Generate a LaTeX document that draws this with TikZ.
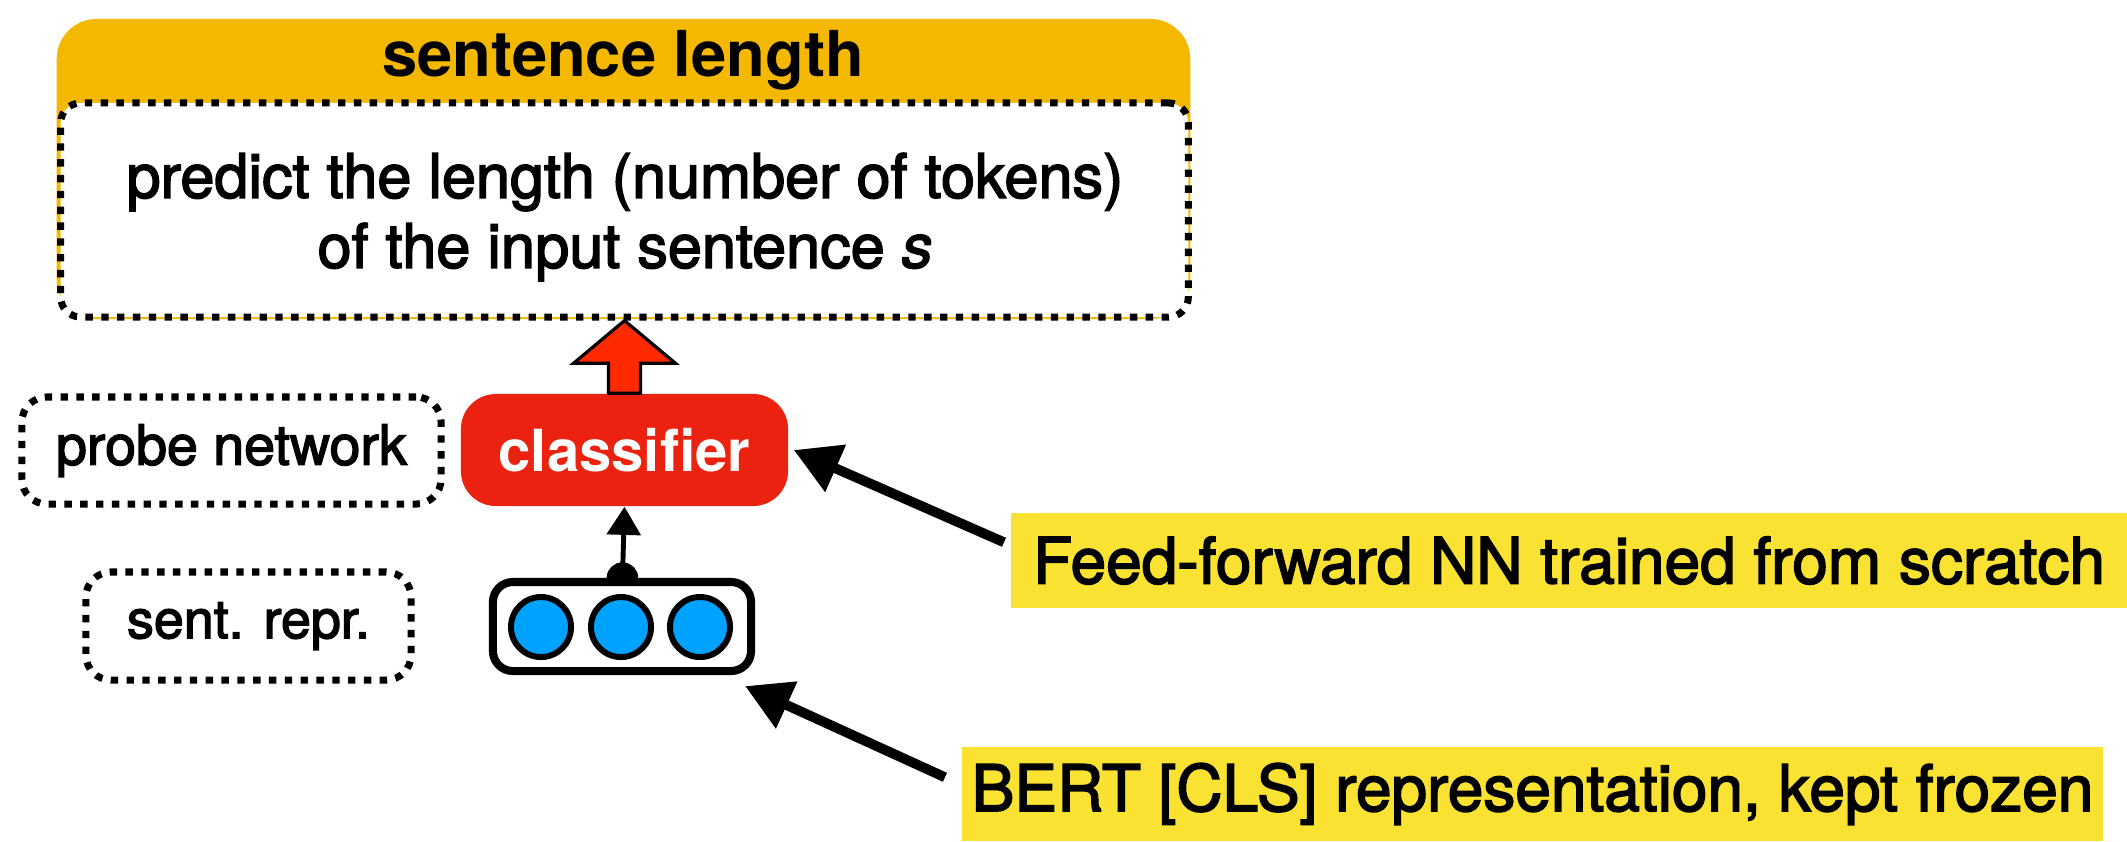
\documentclass[tikz,border=0pt]{standalone}
\usepackage{fontspec}
\setmainfont{TeX Gyre Heros}[UprightFeatures={FakeBold=2.5},ItalicFeatures={FakeBold=2.5}]
\usetikzlibrary{arrows.meta,calc,backgrounds}
\definecolor{taskorange}{RGB}{245,184,0}
\definecolor{clfred}{RGB}{236,34,16}
\definecolor{arrowred}{RGB}{255,42,0}
\definecolor{unitblue}{RGB}{0,162,255}
\definecolor{noteyellow}{RGB}{249,226,50}
\tikzset{
  dotbox/.style={draw,fill=white,line width=2pt,dash pattern=on 2.1pt off 2.4pt,rounded corners=0.25cm},
  note/.style={fill=noteyellow,inner sep=0pt,font=\fontsize{18.2}{20}\selectfont},
  pointer/.style={line width=2.8pt,-{Triangle[length=13pt,width=14pt]}},
  bigarrow/.style={fill=arrowred,draw=black,line width=0.9pt,line join=miter},
}

\begin{document}
\begin{tikzpicture}[x=0.01cm,y=-0.01cm]  % ------ probing task ---------------
    \useasboundingbox (0,0) rectangle (2127,841);

    % task box
    \node[fill=taskorange,rounded corners=0.4cm,minimum width=11.33cm,minimum height=3cm] (taskbg) at (623.5,169) {};
    \node[font=\fontsize{18}{20}\selectfont\bfseries] (task) at (623,60) {sentence length};
    \node[dotbox,rounded corners=0.2cm,minimum width=11.27cm,minimum height=2.14cm] (desc) at (624.5,210) {};
    \node[align=center,font=\fontsize{17.4}{19.9}\selectfont] (desctext) at (625,217)
          {predict the length (number of tokens)\\of the input sentence \textit{s}};

    % probe
    \node[fill=clfred,rounded corners=0.35cm,minimum width=3.27cm,minimum height=1.12cm,text=white,
          font=\fontsize{16.5}{18}\selectfont\bfseries] (clf) at (624.5,450) {classifier};
    \node[dotbox,minimum width=4.19cm,minimum height=1.07cm,font=\fontsize{15.8}{18}\selectfont] (probe) at (231.5,450.5) {probe network};
    \draw[bigarrow] (clf.north) ++(-16,0) -- ++(0,-30) -- ++(-35,0) -- (clf.north |- desc.south)
        -- ($(clf.north)+(51,-30)$) -- ++(-35,0) -- ++(0,30) -- cycle;

    % sentence representation
    \node[dotbox,minimum width=3.25cm,minimum height=1.08cm,font=\fontsize{15.3}{18}\selectfont] (sent) at (248.5,626) {sent. repr.};
    \node[draw,fill=white,line width=2.3pt,rounded corners=0.2cm,minimum width=2.58cm,minimum height=0.89cm] (vec) at (622,626.5) {};
    \foreach \i/\x in {1/541,2/621,3/700}
        \node[circle,draw,fill=unitblue,line width=1.7pt,minimum size=0.6cm,inner sep=0pt] (u\i) at (\x,627) {};
    \begin{scope}[on background layer]
        \draw[line width=1.4pt,{Circle[length=9pt]}-{Triangle[length=8pt,width=9.5pt]}] ($(vec.north)+(0,16)$) -- (clf.south);
    \end{scope}

    % notes
    \node[note,minimum width=11.16cm,minimum height=0.95cm] (ff) at (1569,560.5) {Feed-forward NN trained from scratch};
    \node[note,minimum width=11.41cm,minimum height=0.94cm] (bert) at (1532.5,794) {BERT [CLS] representation, kept frozen};
    \draw[pointer] ($(ff.north west)+(-6,30)$) -- ($(clf.east)+(5,0)$);
    \draw[pointer] ($(bert.north west)+(-16,31)$) -- ($(vec.south east)+(-10,11)$);
\end{tikzpicture}
\end{document}
